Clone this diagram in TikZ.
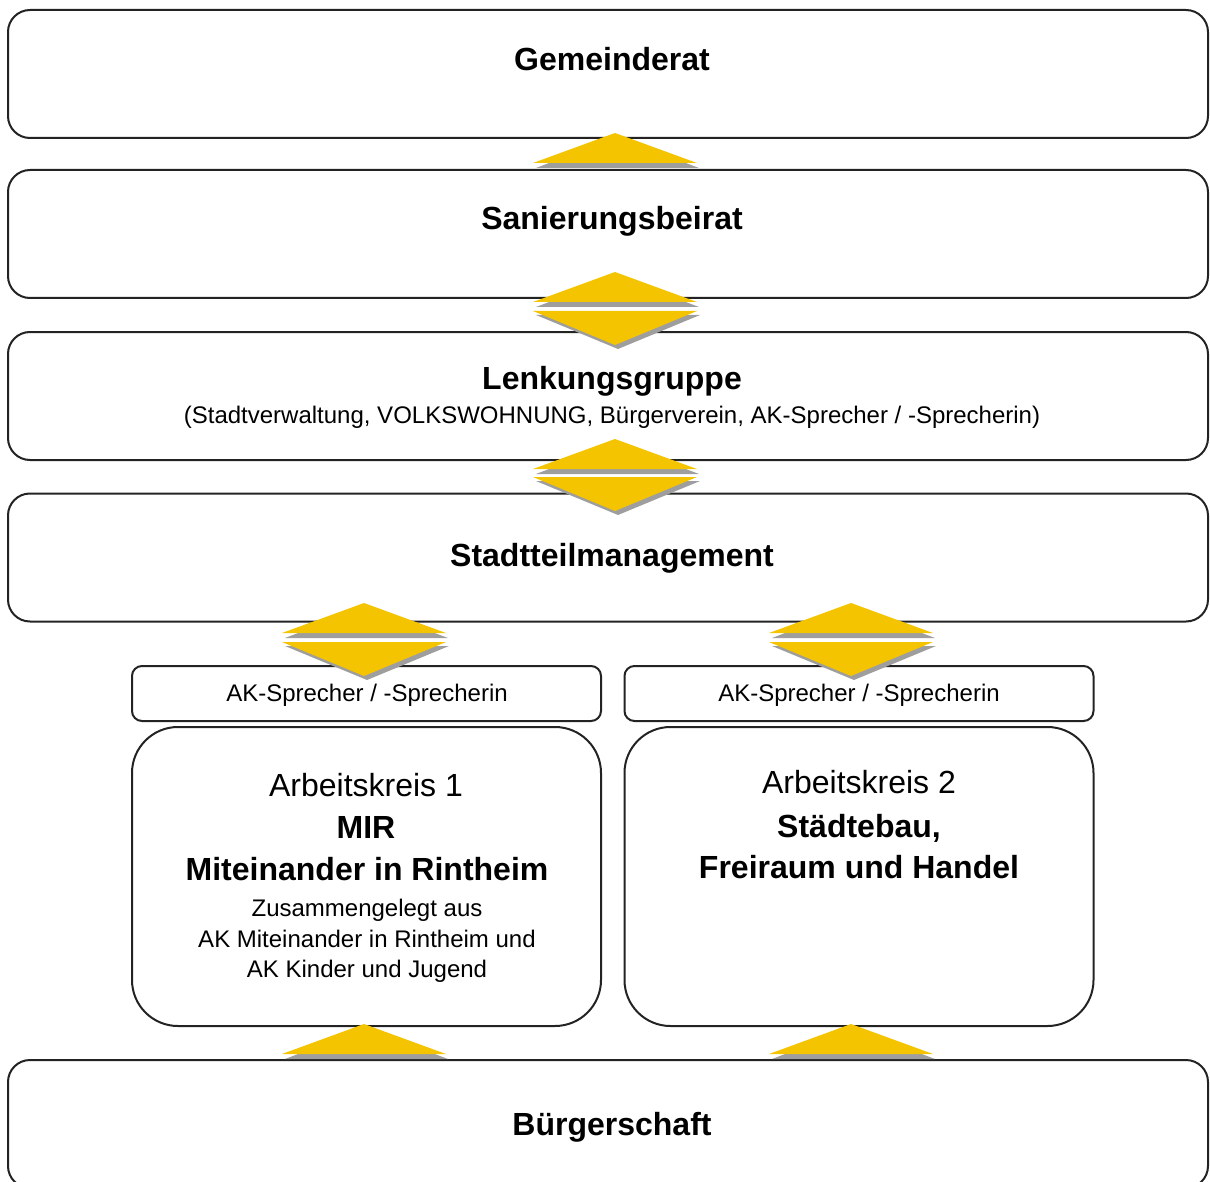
\documentclass[tikz,border=0pt]{standalone}
\usepackage{fontspec}
\setmainfont{Liberation Sans}
\usepackage{tikz}
\usetikzlibrary{positioning}

\definecolor{akyellow}{RGB}{245,196,0}
\definecolor{akshadow}{RGB}{158,158,158}
\definecolor{boxline}{RGB}{35,35,35}

% yellow arrow heads with grey shadow, #1 = middle of the base
\newcommand{\upArrow}[1]{%
	\fill [akshadow, shift={(#1)}] (-79,5) -- (2,-26) -- (84,5) -- cycle;
	\fill [akyellow, shift={(#1)}] (-82,0) -- (0,-30) -- (82,0) -- cycle;}
\newcommand{\downArrow}[1]{%
	\fill [akshadow, shift={(#1)}] (-79,4) -- (85,4) -- (3,38) -- cycle;
	\fill [akyellow, shift={(#1)}] (-82,0) -- (82,0) -- (0,34) -- cycle;}

\begin{document}
\begin{tikzpicture}[x=0.5pt, y=-0.5pt,
	widebox/.style={draw=boxline, line width=1pt, rounded corners=11pt, minimum width=600pt, minimum height=64pt},
	speakerbox/.style={draw=boxline, line width=1pt, rounded corners=5pt, minimum width=234.5pt, minimum height=27.5pt},
	groupbox/.style={draw=boxline, line width=1pt, rounded corners=23pt, minimum width=234.5pt, minimum height=149.5pt},
	title/.style={anchor=base, font=\fontsize{16}{19}\selectfont\bfseries},
	heading/.style={anchor=base, font=\fontsize{16}{19}\selectfont},
	plain/.style={anchor=base, font=\fontsize{12}{14}\selectfont}]
	\useasboundingbox (0,0) rectangle (1210,1182);
	\clip (0,0) rectangle (1210,1182);

	% Place boxes
	\node [widebox] (gemeinderat) at (608,74) {};
	\node [widebox] (sanierung) at (608,234) {};
	\node [widebox] (lenkung) at (608,396) {};
	\node [widebox] (stadtteil) at (608,557.5) {};
	\node [speakerbox] (sprecherA) at (366.5,693.5) {};
	\node [speakerbox] (sprecherB) at (859,693.5) {};
	\node [groupbox] (kreisA) at (366.5,876.5) {};
	\node [groupbox] (kreisB) at (859,876.5) {};
	\node [widebox] (buerger) at (608,1124) {};

	% Place texts
	\node [title] (gemeinderattext) at (612,71) {Gemeinderat};
	\node [title] (sanierungtext) at (612,230) {Sanierungsbeirat};
	\node [title] (lenkungtext) at (612,389) {Lenkungsgruppe};
	\node [plain] (lenkungsub) at (612,423) {(Stadtverwaltung, VOLKSWOHNUNG, Bürgerverein, AK-Sprecher / -Sprecherin)};
	\node [title] (stadtteiltext) at (612,566) {Stadtteilmanagement};
	\node [plain] (sprecherAtext) at (367,701) {AK-Sprecher / -Sprecherin};
	\node [plain] (sprecherBtext) at (859,701) {AK-Sprecher / -Sprecherin};
	\node [heading] (kreisAname) at (366,796) {Arbeitskreis 1};
	\node [title] (kreisAshort) at (366,838) {MIR};
	\node [title] (kreisAtitle) at (367,880) {Miteinander in Rintheim};
	\node [plain] (kreisAnote1) at (367,916) {Zusammengelegt aus};
	\node [plain] (kreisAnote2) at (367,947) {AK Miteinander in Rintheim und};
	\node [plain] (kreisAnote3) at (367,977) {AK Kinder und Jugend};
	\node [heading] (kreisBname) at (859,793) {Arbeitskreis 2};
	\node [title] (kreisBtitle1) at (859,837) {Städtebau,};
	\node [title] (kreisBtitle2) at (859,878) {Freiraum und Handel};
	\node [title] (buergertext) at (612,1135) {Bürgerschaft};

	% Place arrow anchors
	\coordinate (upA) at (615,163);
	\coordinate (upB) at (615,302);
	\coordinate (downB) at (615,311);
	\coordinate (upC) at (615,469);
	\coordinate (downC) at (615,477);
	\coordinate (upD) at (364,633);
	\coordinate (downD) at (364,642);
	\coordinate (upE) at (851,633);
	\coordinate (downE) at (851,642);
	\coordinate (upF) at (364,1054);
	\coordinate (upG) at (851,1054);

	% Draw arrows
	\upArrow{upA}
	\upArrow{upB}
	\downArrow{downB}
	\upArrow{upC}
	\downArrow{downC}
	\upArrow{upD}
	\downArrow{downD}
	\upArrow{upE}
	\downArrow{downE}
	\upArrow{upF}
	\upArrow{upG}
\end{tikzpicture}
\end{document}
